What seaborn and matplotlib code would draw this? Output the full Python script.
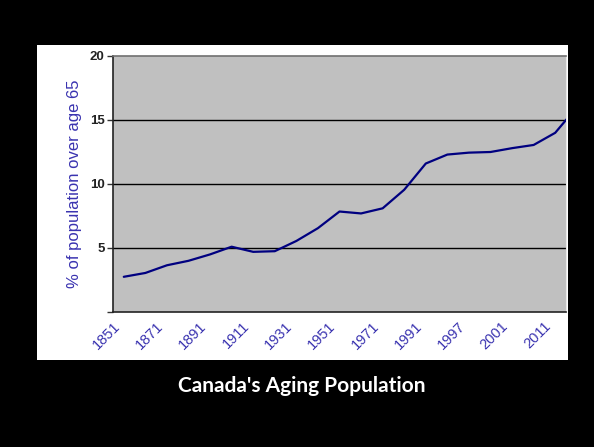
import numpy as np
import pandas as pd
import matplotlib.pyplot as plt
import matplotlib.patches as mpatches
import matplotlib.transforms as mtransforms
import seaborn as sns

# census years (category axis) and % of population over 65
years = ['1851', '1861', '1871', '1881', '1891', '1901', '1911', '1921', '1931', '1941',
         '1951', '1961', '1971', '1981', '1991', '1996', '1997', '1999', '2001', '2006',
         '2011', '2016']
pct_over_65 = [2.75, 3.05, 3.65, 4.0, 4.5, 5.1, 4.7, 4.75, 5.55, 6.55,
               7.85, 7.7, 8.1, 9.55, 11.6, 12.3, 12.45, 12.5, 12.8, 13.05,
               14.0, 16.0]
yticks = [0, 5, 10, 15, 20]
ytick_labels = ['', '5', '10', '15', '20']

df = pd.DataFrame({'pos': np.arange(len(years)), 'year': years, 'pct': pct_over_65})

sns.set_style('white')
plt.rcParams['font.family'] = ['Liberation Sans', 'DejaVu Sans']

fig = plt.figure(figsize=(5.94, 4.47), dpi=100)
fig.patch.set_facecolor('black')

W, H = 594, 447
# white chart panel
fig.patches.append(mpatches.Rectangle((37 / W, 1 - 360 / H), (568 - 37) / W, (360 - 45) / H,
                                      transform=fig.transFigure, facecolor='white',
                                      edgecolor='none', zorder=-5))

ax = fig.add_axes([113 / W, 1 - 312 / H, (566 - 113) / W, (312 - 56) / H])
ax.set_zorder(2)
ax.set_facecolor('#c0c0c0')

for y in [5, 10, 15]:
    ax.axhline(y, color='black', lw=1.0, zorder=1)

sns.lineplot(data=df, x='pos', y='pct', color='#000080', lw=1.6, ax=ax, zorder=3)

ax.set_xlim(-0.5, 20.5)
ax.set_ylim(0, 20)

# x axis: marks between categories, labels on every other category
ax.set_xticks(np.arange(0, 21, 2))
ax.set_xticklabels(years[0:21:2], rotation=45, ha='right', rotation_mode='anchor',
                   color='#3a33b0', fontsize=10.5)
ax.set_xticks(np.arange(-0.5, 21, 1), minor=True)
ax.tick_params(axis='x', which='major', length=0, pad=5)
ax.tick_params(axis='x', which='minor', length=4, color='#555555', width=1, direction='out')
shift = mtransforms.ScaledTranslation(-0.11, 0, fig.dpi_scale_trans)
for lbl in ax.get_xticklabels():
    lbl.set_transform(lbl.get_transform() + shift)

ax.set_yticks(yticks)
ax.set_yticklabels(ytick_labels, fontsize=9.5, fontweight='bold', color='#222222')
ax.tick_params(axis='y', length=4, width=1, color='#333333', direction='out', pad=2, left=True)

ax.set_xlabel('')
ax.set_ylabel('% of population over age 65', color='#3a33b0', fontsize=12, labelpad=6)

for side in ['left', 'bottom']:
    ax.spines[side].set_color('#222222')
    ax.spines[side].set_linewidth(1.2)
ax.spines['top'].set_color('#707070')
ax.spines['top'].set_linewidth(1.2)
ax.spines['right'].set_color('#e8e8e8')

fig.text(302 / W, 1 - 386 / H, "Canada's Aging Population", color='white',
         fontsize=15, fontweight='bold', ha='center', va='center', family=['Lato', 'DejaVu Sans'])

fig.savefig('out.png', dpi=100, facecolor=fig.get_facecolor())
